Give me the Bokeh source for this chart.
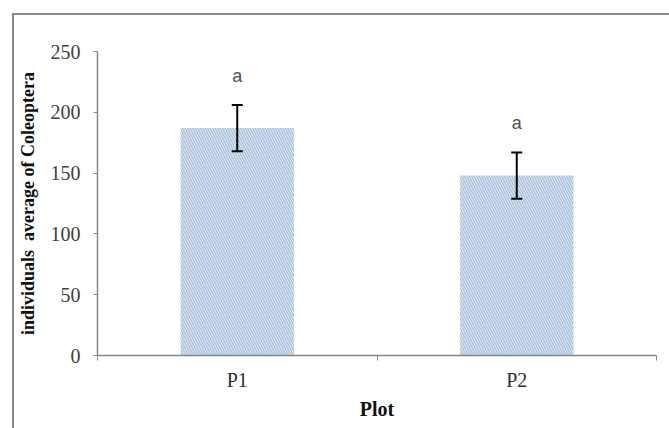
from bokeh.plotting import figure
from bokeh.models import ColumnDataSource, FixedTicker, Whisker, TeeHead, Range1d
from bokeh.core.properties import value
from bokeh.embed import file_html
from bokeh.resources import INLINE

# data
plots = ["P1", "P2"]
means = [187, 148]
errors = [19, 19]
letters = ["a", "a"]
y_ticks = [0, 50, 100, 150, 200, 250]

xs = [i + 0.5 for i in range(len(plots))]
upper = [m + e for m, e in zip(means, errors)]
lower = [m - e for m, e in zip(means, errors)]
src = ColumnDataSource(dict(x=xs, top=means, upper=upper, lower=lower, lab=letters))

p = figure(width=657, height=415, output_backend="svg", toolbar_location=None,
           x_range=Range1d(0, len(plots)), y_range=Range1d(0, 250),
           min_border_left=83, min_border_right=15, min_border_top=36, min_border_bottom=75)
p.margin = (13, 0, 0, 12)
p.styles = {"border-top": "2px solid #8a8a8a", "border-left": "2px solid #8a8a8a"}
p.outline_line_color = None
p.grid.grid_line_color = None
p.background_fill_color = "white"

p.vbar(x="x", top="top", width=0.405, source=src, fill_color="#e3ebf6",
       line_color=None, hatch_pattern="\\", hatch_color="#a8bddc",
       hatch_scale=5, hatch_weight=1.3)

w = Whisker(base="x", upper="upper", lower="lower", source=src,
            line_color="black", line_width=2, level="overlay",
            upper_head=TeeHead(size=11, line_color="black", line_width=2),
            lower_head=TeeHead(size=11, line_color="black", line_width=2))
p.add_layout(w)

p.text(x="x", y="upper", text="lab", source=src, y_offset=-29,
       text_align="center", text_baseline="middle",
       text_font=value("Liberation Sans"), text_font_size="18px", text_color="#505050")

# x axis
xa = p.xaxis[0]
xa.ticker = FixedTicker(ticks=xs, minor_ticks=list(range(len(plots) + 1)))
xa.major_label_overrides = {x: lab for x, lab in zip(xs, plots)}
xa.major_tick_line_color = None
xa.major_tick_out = 0
xa.major_tick_in = 0
xa.minor_tick_out = 5
xa.minor_tick_in = 0
xa.minor_tick_line_color = "#868686"
xa.axis_line_color = "#868686"
xa.axis_line_width = 1.5
xa.major_label_standoff = 8
xa.major_label_text_font = "Liberation Serif"
xa.major_label_text_font_size = "20px"
xa.major_label_text_color = "#303030"
xa.axis_label = "Plot"
xa.axis_label_text_font = "Liberation Serif"
xa.axis_label_text_font_style = "bold"
xa.axis_label_text_font_size = "20px"
xa.axis_label_text_color = "#111111"
xa.axis_label_standoff = 4

# y axis
ya = p.yaxis[0]
ya.ticker = FixedTicker(ticks=y_ticks)
ya.minor_tick_line_color = None
ya.major_tick_out = 4
ya.major_tick_in = 0
ya.major_tick_line_color = "#868686"
ya.axis_line_color = "#868686"
ya.axis_line_width = 1.5
ya.major_label_standoff = 13
ya.major_label_text_font = "Liberation Serif"
ya.major_label_text_font_size = "20px"
ya.major_label_text_color = "#404040"
ya.axis_label = "individuals\u00a0 average of Coleoptera"
ya.axis_label_text_font = "Liberation Serif"
ya.axis_label_text_font_style = "bold"
ya.axis_label_text_font_size = "18px"
ya.axis_label_text_color = "#111111"
ya.axis_label_standoff = 10

open("out.html", "w").write(file_html(p, INLINE))
